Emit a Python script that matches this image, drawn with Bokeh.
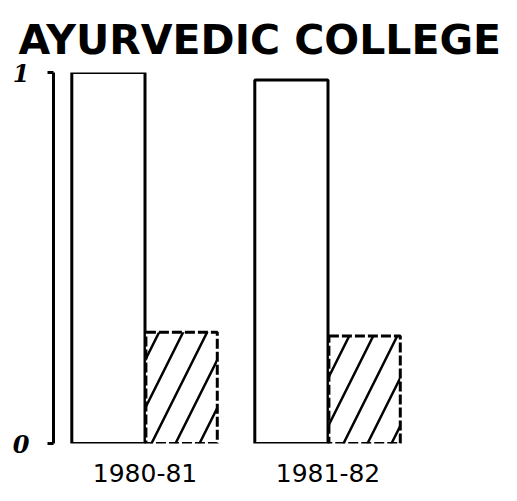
from bokeh.plotting import figure
from bokeh.models import ColumnDataSource, FactorRange, Range1d, FixedTicker
from bokeh.transform import dodge
from bokeh.embed import file_html
from bokeh.resources import INLINE

years = ["1980-81", "1981-82"]
series_plain = [1.0, 0.98]
series_hatched = [0.30, 0.29]
y_ticks = [0, 1]
y_tick_labels = {0: "0", 1: "1"}

src = ColumnDataSource(dict(years=years, plain=series_plain, hatched=series_hatched))

p = figure(x_range=FactorRange(*years, range_padding=0), y_range=Range1d(0, 1.0),
           frame_width=366, frame_height=371,
           min_border_left=53, min_border_right=82, min_border_top=72, min_border_bottom=48,
           output_backend="svg", toolbar_location=None, title="AYURVEDIC   COLLEGE")

p.title.text_font = "DejaVu Sans"
p.title.text_font_size = "41px"
p.title.text_font_style = "bold"
p.title.align = "left"
p.title.offset = -35
p.title.standoff = 18
p.title.text_color = "black"

p.vbar(x=dodge("years", -0.2, range=p.x_range), top="plain", width=0.4, source=src,
       fill_color="white", line_color="black", line_width=3)
p.vbar(x=dodge("years", 0.2, range=p.x_range), top="hatched", width=0.39, source=src,
       fill_color="white", line_color="black", line_width=3, line_dash="10 3",
       hatch_pattern="/", hatch_color="black", hatch_scale=48, hatch_weight=2.5)

p.xgrid.visible = False
p.ygrid.visible = False
p.outline_line_color = None

p.xaxis.axis_line_color = None
p.xaxis.major_tick_line_color = None
p.xaxis.major_label_text_font_size = "25px"
p.xaxis.major_label_text_font = "DejaVu Sans"
p.xaxis.major_label_text_color = "black"
p.xaxis.major_label_standoff = 14

p.yaxis.ticker = FixedTicker(ticks=y_ticks)
p.yaxis.major_label_overrides = y_tick_labels
p.yaxis.axis_line_color = "black"
p.yaxis.axis_line_width = 3
p.yaxis.major_tick_line_color = "black"
p.yaxis.major_tick_line_width = 3
p.yaxis.major_tick_out = 6
p.yaxis.major_tick_in = 0
p.yaxis.minor_tick_line_color = None
p.yaxis.major_label_text_font_size = "24px"
p.yaxis.major_label_text_font_style = "bold italic"
p.yaxis.major_label_text_font = "DejaVu Serif"
p.yaxis.major_label_text_color = "black"
p.yaxis.major_label_standoff = 18

open("out.html", "w").write(file_html(p, INLINE))
